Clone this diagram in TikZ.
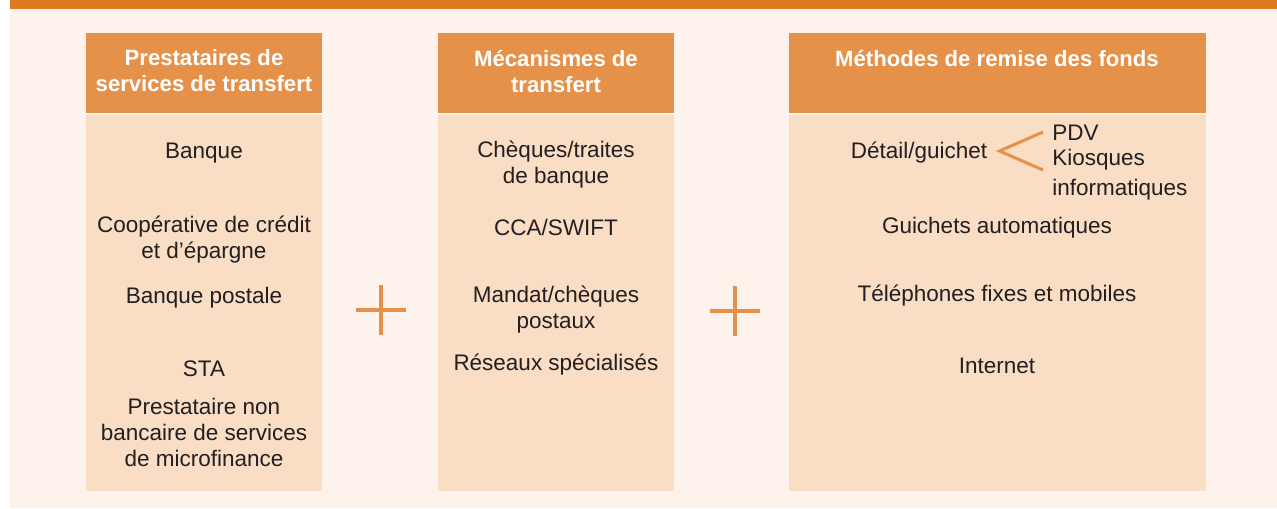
\documentclass[tikz,border=0pt]{standalone}
\usepackage{fontspec}
\setmainfont{Liberation Sans}
\usepackage{tikz}
\definecolor{bandeau}{HTML}{DD7A1F}
\definecolor{entete}{HTML}{E6914A}
\definecolor{corps}{HTML}{F9DDC4}
\definecolor{fond}{HTML}{FDF3EC}
\definecolor{encre}{HTML}{231F20}
\tikzstyle{titre} = [rectangle, fill=entete, draw=none, minimum height=1.6cm, inner sep=0pt]
\tikzstyle{colonne} = [rectangle, fill=corps, draw=none, minimum height=7.52cm, inner sep=0pt]
\tikzstyle{titretexte} = [text=white, font=\fontsize{12.6}{14.8}\selectfont\bfseries, align=center, inner sep=0pt]
\tikzstyle{entree} = [text=encre, font=\fontsize{12.8}{14.8}\selectfont, align=center, inner sep=0pt]
\tikzstyle{plus} = [draw=entete, line width=2pt]

\begin{document}
\begin{tikzpicture}[x=0.02cm, y=-0.02cm]
        \useasboundingbox (0,0) rectangle (1277,508);
        \fill[fond] (10,9) rectangle (1277,508);
        \fill[bandeau] (10,0) rectangle (1277,9);

        % colonnes
        \node (h1) [titre, minimum width=4.72cm] at (204,73) {};
        \node (c1) [colonne, minimum width=4.72cm] at (204,303) {};
        \node (h2) [titre, minimum width=4.72cm] at (556,73) {};
        \node (c2) [colonne, minimum width=4.72cm] at (556,303) {};
        \node (h3) [titre, minimum width=8.34cm] at (997.5,73) {};
        \node (c3) [colonne, minimum width=8.34cm] at (997.5,303) {};

        \node (t1) [titretexte] at (204,71) {Prestataires de\\services de transfert};
        \node (t2) [titretexte] at (556,71) {Mécanismes de\\transfert};
        \node (t3) [titretexte] at (997,58) {Méthodes de remise des fonds};

        % prestataires
        \node (banque) [entree] at (204,153) {Banque};
        \node (coop) [entree] at (204,240) {Coopérative de crédit\\et d’épargne};
        \node (postale) [entree] at (204,298) {Banque postale};
        \node (sta) [entree] at (204,369) {STA};
        \node (pnb) [entree] at (204,432) {Prestataire non\\bancaire de services\\de microfinance};

        % mecanismes
        \node (cheques) [entree] at (556,165) {Chèques/traites\\de banque};
        \node (swift) [entree] at (556,227) {CCA/SWIFT};
        \node (mandat) [entree] at (556,310) {Mandat/chèques\\postaux};
        \node (reseaux) [entree] at (556,365) {Réseaux spécialisés};

        % methodes
        \node (detail) [entree] at (919,153) {Détail/guichet};
        \node (pdv) [entree, anchor=west] at (1052,133) {PDV};
        \node (kiosques) [entree, anchor=west] at (1052,160) {Kiosques};
        \node (info) [entree, anchor=west] at (1052,190) {informatiques};
        \node (gab) [entree] at (997,228) {Guichets automatiques};
        \node (tel) [entree] at (997,296) {Téléphones fixes et mobiles};
        \node (web) [entree] at (997,366) {Internet};

        \coordinate (brA) at (1043,132);
        \coordinate (brB) at (1043,170);
        \draw[draw=entete, line width=1.7pt] (brA) -- ([xshift=0.24cm, yshift=0.04cm]detail.east) -- (brB);

        % signes plus
        \coordinate (p1) at (381,310);
        \coordinate (p2) at (735,311);
        \draw[plus] (p1) ++(-25,0) -- ++(50,0) (p1) ++(0,-25) -- ++(0,50);
        \draw[plus] (p2) ++(-25,0) -- ++(50,0) (p2) ++(0,-25) -- ++(0,50);

\end{tikzpicture}
\end{document}
